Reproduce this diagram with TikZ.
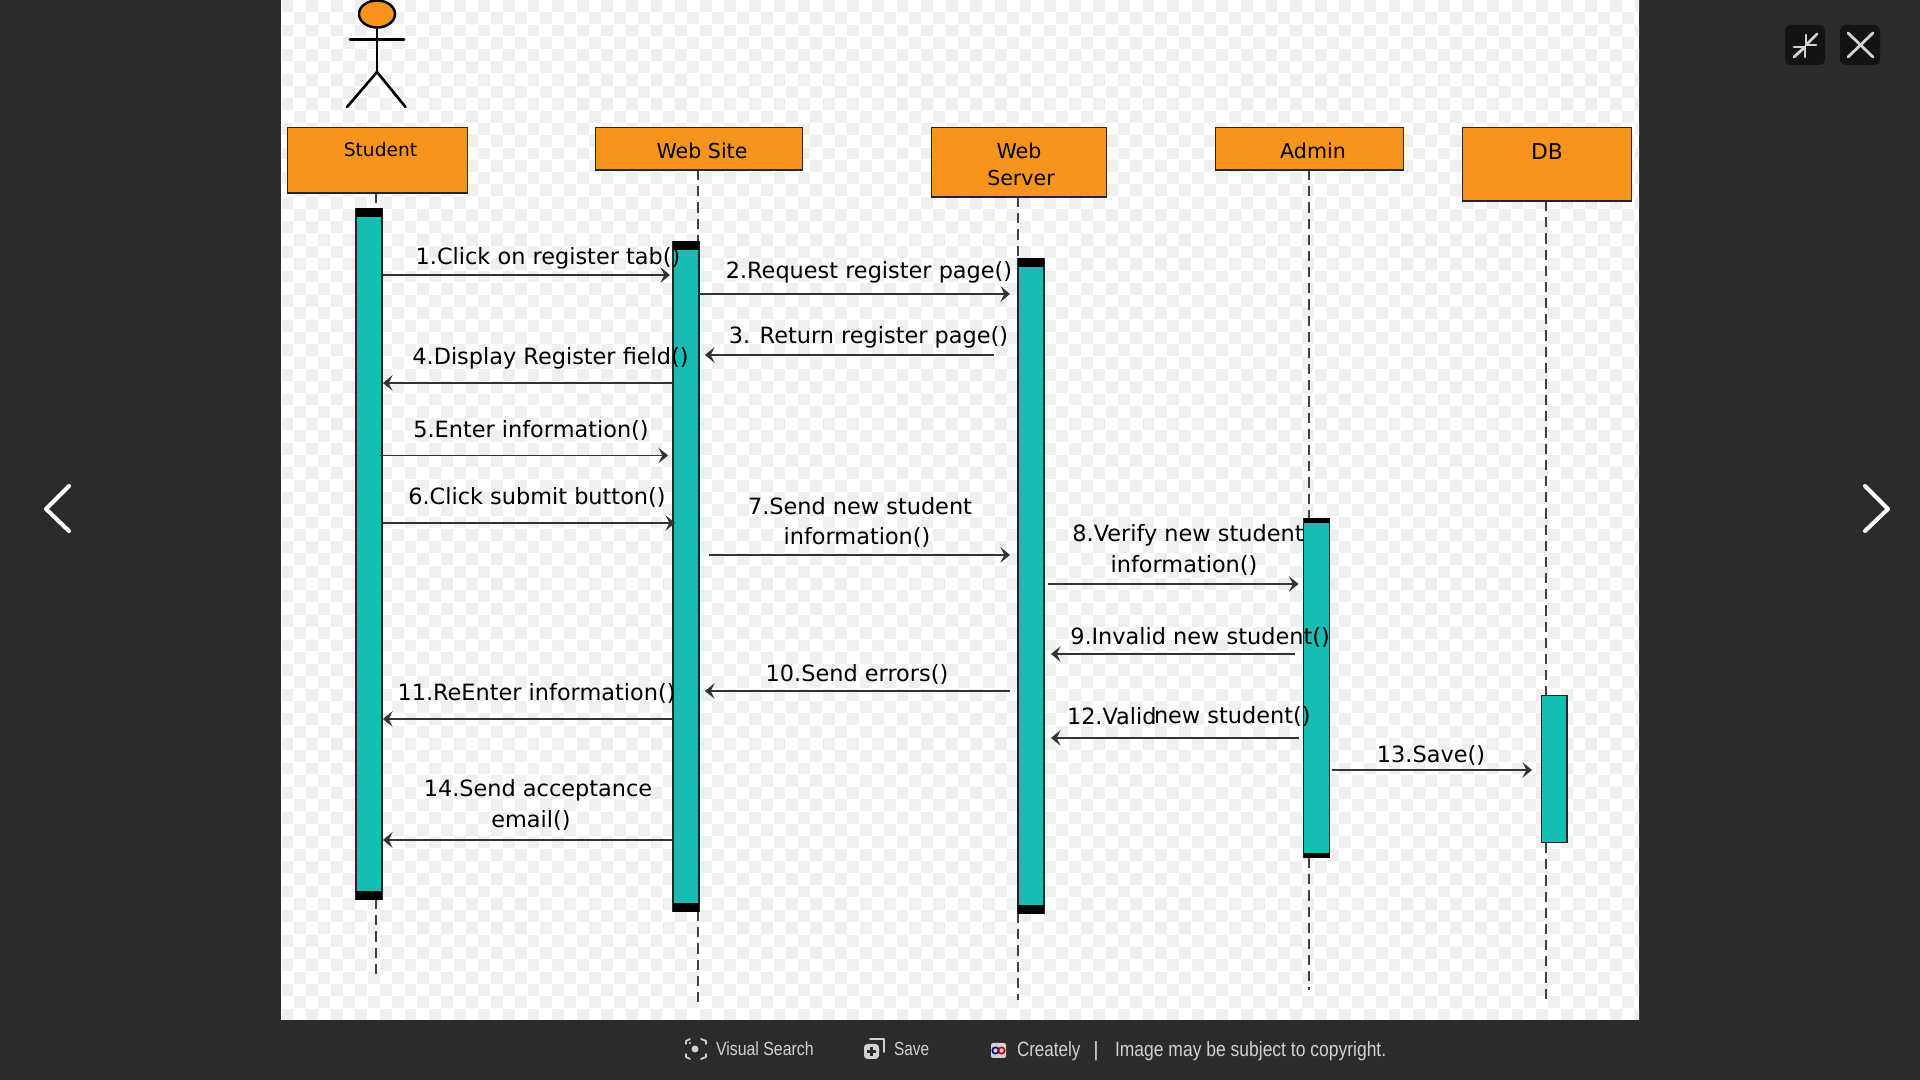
\documentclass[tikz,border=0pt]{standalone}
\usepackage{fontspec}
\setmainfont{DejaVu Sans}
\newfontfamily\uifont{Liberation Sans}
\usetikzlibrary{arrows.meta,shapes.geometric}
\definecolor{dark}{HTML}{2B2B2B}
\definecolor{orangebox}{HTML}{F7941E}
\definecolor{tealbar}{HTML}{17BDB3}
\definecolor{checker}{HTML}{EFEFEF}
\definecolor{uitext}{HTML}{D2D2D2}
\tikzset{
  x=0.01cm,y=-0.01cm,
  actorbox/.style={draw=black!85,fill=orangebox,line width=0.45pt,inner sep=0,outer sep=0,anchor=north west,align=center},
  actbar/.style={draw=black!85,fill=tealbar,line width=0.45pt,inner sep=0,outer sep=0,anchor=north west,minimum width=0.26cm},
  barcap/.style={fill=black,inner sep=0,outer sep=0,anchor=north west,minimum width=0.26cm,minimum height=0.09cm},
  lifeline/.style={draw=black!75,line width=0.48pt,dash pattern=on 2.9pt off 1.7pt},
  msgline/.style={draw=black!80,line width=0.3pt,-{Stealth[length=2.7pt,width=4.4pt,inset=1.1pt,line width=0.25pt]}},
  msglab/.style={inner sep=0,outer sep=0,text=black,align=center,font=\fontsize{6.37}{7.5}\selectfont},
  headlab/.style={inner sep=0,outer sep=0,text=black,align=center,font=\fontsize{5.85}{7}\selectfont},
  stickline/.style={draw=black,line width=0.75pt,line cap=round},
  navline/.style={draw=white,line width=1.15pt,line cap=round,line join=round},
  uibtn/.style={fill=black,fill opacity=0.55,rounded corners=1.5pt},
  uiicon/.style={draw=uitext,line width=0.8pt,line cap=round,line join=round},
  uilab/.style={inner sep=0,outer sep=0,text=uitext,font=\uifont\fontsize{5.4}{6}\selectfont},
  uilabb/.style={uilab,font=\uifont\fontsize{5.9}{6}\selectfont},
}
\begin{document}
\begin{tikzpicture}
\useasboundingbox (0,0) rectangle (1920,1080);
\fill[dark] (0,0) rectangle (1920,1080);
\fill[white] (281,0) rectangle (1639,1020);
% checkerboard
\begin{scope}
\clip (281,0) rectangle (1639,1020);
\foreach \r in {0,...,82}{
  \foreach \c in {0,...,110}{
    \pgfmathparse{int(mod(\r+\c,2))}
    \ifnum\pgfmathresult=0
      \fill[checker] ({281.5+\c*12.3},{\r*12.3}) rectangle ++(11.9,11.9);
    \fi
  }
}
\end{scope}
% actor
\node[draw=black,fill=orangebox,line width=0.7pt,ellipse,minimum width=0.36cm,minimum height=0.27cm,inner sep=0] (head) at (377,14) {};
\coordinate (hip) at (377,72);
\coordinate (armL) at (350,39.5);
\coordinate (armR) at (404,39.5);
\coordinate (legL) at (347,107);
\coordinate (legR) at (405.5,107);
\draw[stickline] (head.south) -- (hip);
\draw[stickline] (armL) -- (armR);
\draw[stickline] (legL) -- (hip) -- (legR);
% lifelines
\foreach \n/\x/\a/\b/\c/\d in {s/376/193/208/899/977, w/698/170/241/911/1006, v/1018/197/258/913/1000, a/1309/170/518/858/990, d/1546/201/695/843/1003}{
  \coordinate (\n1) at (\x,\a);
  \coordinate (\n2) at (\x,\b);
  \coordinate (\n3) at (\x,\c);
  \coordinate (\n4) at (\x,\d);
  \draw[lifeline] (\n1) -- (\n2);
  \draw[lifeline] (\n3) -- (\n4);
}
% headers
\node[actorbox,minimum width=1.80cm,minimum height=0.655cm] (student) at (287.5,127.5) {};
\node[actorbox,minimum width=2.07cm,minimum height=0.425cm] (website) at (595.5,127.5) {};
\node[actorbox,minimum width=1.75cm,minimum height=0.695cm] (webserver) at (931.5,127.5) {};
\node[actorbox,minimum width=1.88cm,minimum height=0.425cm] (admin) at (1215.5,127.5) {};
\node[actorbox,minimum width=1.69cm,minimum height=0.735cm] (db) at (1462.5,127.5) {};
\node[headlab,font=\fontsize{5.3}{6}\selectfont] (tstudent) at (380.5,149.5) {Student};
\node[headlab] (twebsite) at (702,151) {Web Site};
\node[headlab] (tweb) at (1019,151) {Web};
\node[headlab] (tserver) at (1021,178) {Server};
\node[headlab] (tadmin) at (1313,151) {Admin};
\node[headlab,font=\fontsize{6.2}{7}\selectfont] (tdb) at (1547,152) {DB};
% activation bars
\node[actbar,minimum height=6.90cm] (barS) at (356,208.5) {};
\node[barcap] (capS1) at (356,208.5) {};
\node[barcap] (capS2) at (356,891) {};
\node[actbar,minimum height=6.69cm] (barW) at (673,241.5) {};
\node[barcap] (capW1) at (673,241.5) {};
\node[barcap] (capW2) at (673,903) {};
\node[actbar,minimum height=6.54cm] (barV) at (1018,258.5) {};
\node[barcap] (capV1) at (1018,258.5) {};
\node[barcap] (capV2) at (1018,905) {};
\node[actbar,minimum height=3.39cm] (barA) at (1303.5,518.5) {};
\node[barcap,minimum height=0.05cm] (capA1) at (1303.5,518.5) {};
\node[barcap,minimum height=0.05cm] (capA2) at (1303.5,853) {};
\node[actbar,minimum height=1.47cm,minimum width=0.255cm] (barD) at (1541.5,695.5) {};
% messages
\foreach \n/\xa/\xb/\y in {1/382/670/275, 2/699/1010/294, 3/994/705/355, 4/673/383/383, 5/380/668/455.5, 6/383/675/523, 7/709/1010/555, 8/1047.5/1298.5/584, 9/1295/1051/654, 10/1010/705/691, 11/673/383/719, 12/1298.5/1051/738, 13/1331.5/1532/770, 14/673/383/840}{
  \coordinate (m\n a) at (\xa,\y);
  \coordinate (m\n b) at (\xb,\y);
  \draw[msgline] (m\n a) -- (m\n b);
}
% labels
\node[msglab] (l1) at (548,258.5) {1.Click on register tab()};
\node[msglab] (l2) at (869,272.5) {2.Request register page()};
\node[msglab] (l3) at (868.5,337.5) {3. Return register page()};
\node[msglab] (l4) at (550.5,358) {4.Display Register field()};
\node[msglab] (l5) at (531,430) {5.Enter information()};
\node[msglab] (l6) at (537,497) {6.Click submit button()};
\node[msglab] (l7a) at (860,506) {7.Send new student};
\node[msglab] (l7b) at (857,537) {information()};
\node[msglab] (l8a) at (1188,535.5) {8.Verify new student};
\node[msglab] (l8b) at (1184,565.5) {information()};
\node[msglab] (l9) at (1200,637) {9.Invalid new student()};
\node[msglab] (l10) at (857,674) {10.Send errors()};
\node[msglab] (l11) at (536.5,693) {11.ReEnter information()};
\node[msglab,anchor=west] (l12a) at (1067,716) {12.Valid};
\node[msglab,anchor=west] (l12b) at (1154,716) {new student()};
\node[msglab] (l13) at (1431,755) {13.Save()};
\node[msglab] (l14a) at (538,790) {14.Send acceptance};
\node[msglab] (l14b) at (531,820) {email()};
% navigation chevrons
\draw[navline] (69,486) -- (46,509) -- (69,531);
\draw[navline] (1865,486) -- (1888,509) -- (1865,531);
% top-right buttons
\fill[uibtn] (1785,25) rectangle (1825,65);
\fill[uibtn] (1840,25) rectangle (1880,65);
\draw[uiicon] (1817,34) -- (1806,45);
\draw[uiicon] (1806,35) -- (1806,45) -- (1816,45);
\draw[uiicon] (1794,57) -- (1805,47);
\draw[uiicon] (1794,47) -- (1805,47) -- (1805,57);
\draw[uiicon] (1848,33) -- (1873,57);
\draw[uiicon] (1873,33) -- (1848,57);
% bottom bar
\draw[uiicon,line width=0.5pt] (686,1044) -- (686,1041) -- (690,1039);
\draw[uiicon,line width=0.5pt] (701,1039) -- (706,1041) -- (706,1044);
\draw[uiicon,line width=0.5pt] (706,1054) -- (706,1057) -- (701,1059);
\draw[uiicon,line width=0.5pt] (690,1059) -- (686,1057) -- (686,1054);
\fill[uitext] (695,1049) circle (3.5);
\fill[uitext] (690,1043) circle (1.2);
\node[uilab,anchor=west] (vs) at (716,1049) {\scalebox{0.836}[1]{Visual Search}};
\draw[uiicon,line width=0.5pt] (870,1039) -- (884,1039) -- (884,1052);
\fill[uitext,rounded corners=1pt] (864,1044) rectangle (879,1059);
\draw[dark,line width=0.6pt] (871.5,1047) -- (871.5,1056) (867,1051.5) -- (876,1051.5);
\node[uilab,anchor=west] (save) at (894,1049) {\scalebox{0.81}[1]{Save}};
\fill[uitext,rounded corners=0.6pt] (991,1043) rectangle (1006,1058);
\draw[black!60!blue,line width=0.45pt] (995.5,1050.5) circle (3.2);
\draw[red!75!black,line width=0.45pt] (1001.5,1050.5) circle (3.2);
\node[uilabb,anchor=west] (creately) at (1017,1051.5) {\scalebox{0.82}[1]{Creately}};
\node[uilabb] (sep) at (1096,1051.5) {|};
\node[uilabb,anchor=west] (copy) at (1115,1051.5) {\scalebox{0.843}[1]{Image may be subject to copyright.}};
\end{tikzpicture}
\end{document}
